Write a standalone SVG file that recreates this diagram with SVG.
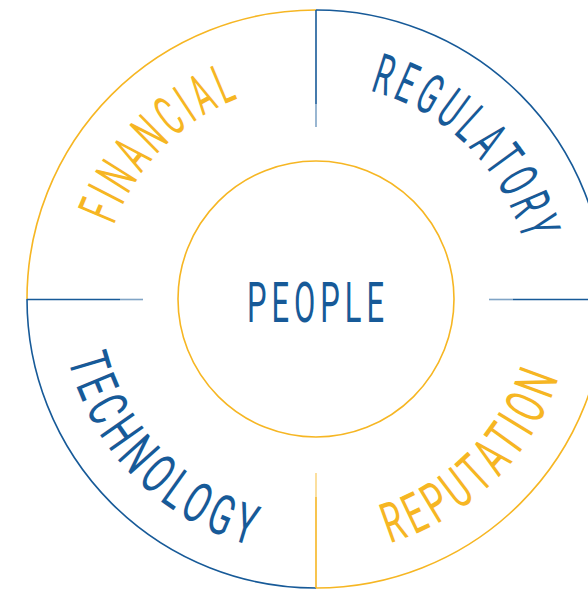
<svg xmlns="http://www.w3.org/2000/svg" width="588" height="589" viewBox="0 0 588 589">
<style>
.b{stroke:#175a98;fill:none;stroke-width:1.6}
.y{stroke:#f6b623;fill:none;stroke-width:1.6}
.t{font-family:Roboto,"Liberation Sans",sans-serif;font-size:56px;font-weight:400;letter-spacing:9px}
.tb{fill:#175a98}
.ty{fill:#f6b623}
</style>
<defs>
<path id="pFin" d="M101,299 A215,215 0 0 1 316,84"/>
<path id="pReg" d="M316,84 A215,215 0 0 1 531,299"/>
<path id="pTec" d="M61,299 A255,255 0 0 0 316,554"/>
<path id="pRep" d="M316,554 A255,255 0 0 0 571,299"/>
</defs>
<rect width="588" height="589" fill="#ffffff"/>
<g id="connectors">
<path class="y" d="M27,299 A289,289 0 0 1 316,10"/>
<path class="b" d="M316,10 A289,289 0 0 1 605,299"/>
<path class="y" d="M605,299 A289,289 0 0 1 316,588"/>
<path class="b" d="M316,588 A289,289 0 0 1 27,299"/>
<line class="b" x1="316" y1="10" x2="316" y2="104"/>
<line class="b" x1="316" y1="104" x2="316" y2="127" stroke-opacity="0.55"/>
<line class="b" x1="27" y1="299.5" x2="120" y2="299.5"/>
<line class="b" x1="120" y1="299.5" x2="143" y2="299.5" stroke-opacity="0.55"/>
<line class="b" x1="513" y1="299.5" x2="588" y2="299.5"/>
<line class="b" x1="489" y1="299.5" x2="513" y2="299.5" stroke-opacity="0.55"/>
<line class="y" x1="316" y1="497" x2="316" y2="588"/>
<line class="y" x1="316" y1="473" x2="316" y2="497" stroke-opacity="0.55"/>
</g>
<g id="people">
<circle class="y" cx="316" cy="299" r="138" stroke-width="2"/>
<text class="t tb" x="318" y="322" text-anchor="middle" textLength="142" lengthAdjust="spacingAndGlyphs">PEOPLE</text>
</g>
<g id="financial">
<text class="t ty"><textPath href="#pFin" startOffset="50%" text-anchor="middle" textLength="187" lengthAdjust="spacingAndGlyphs">FINANCIAL</textPath></text>
</g>
<g id="regulatory">
<text class="t tb"><textPath href="#pReg" startOffset="50%" text-anchor="middle" textLength="229" lengthAdjust="spacingAndGlyphs">REGULATORY</textPath></text>
</g>
<g id="technology">
<text class="t tb"><textPath href="#pTec" startOffset="50%" text-anchor="middle" textLength="279" lengthAdjust="spacingAndGlyphs">TECHNOLOGY</textPath></text>
</g>
<g id="reputation">
<text class="t ty"><textPath href="#pRep" startOffset="50%" text-anchor="middle" textLength="251" lengthAdjust="spacingAndGlyphs">REPUTATION</textPath></text>
</g>
</svg>
